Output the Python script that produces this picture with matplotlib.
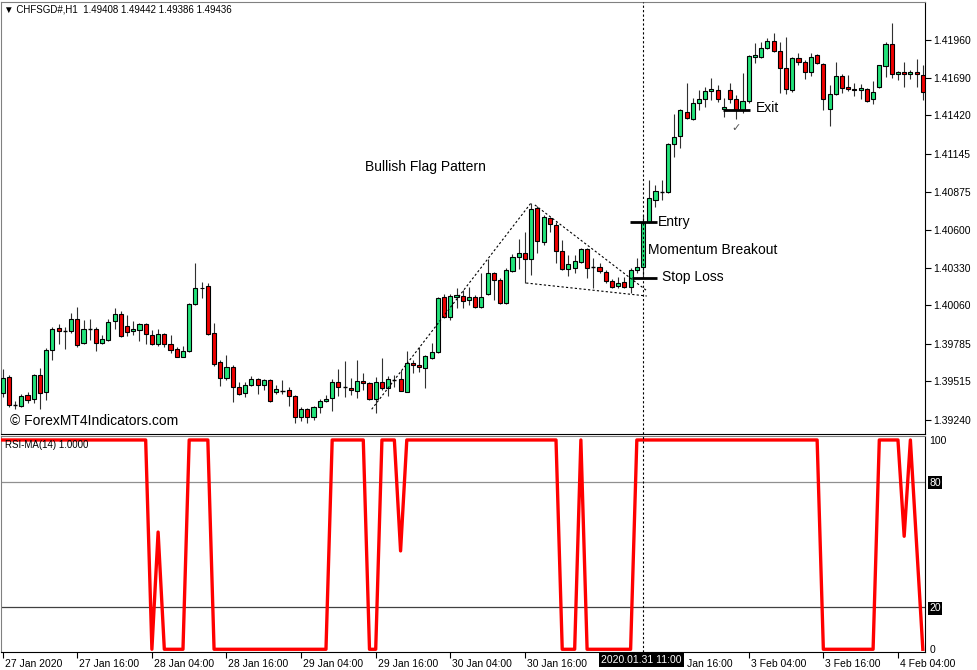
import matplotlib
matplotlib.use("Agg")
import matplotlib.pyplot as plt
import matplotlib.transforms as mtransforms

plt.rcParams['font.family'] = ['Liberation Sans', 'DejaVu Sans']

# CHFSGD# H1 candles, 27 Jan 04:00 .. 4 Feb 08:00 (bar index order)
opens = [1.39431, 1.39547, 1.39347, 1.39342, 1.39419, 1.39390, 1.39560, 1.39438, 1.39741, 1.39896,
         1.39877, 1.39877, 1.39960, 1.39789, 1.39889, 1.39891, 1.39789, 1.39812, 1.39950, 1.39998,
         1.39913, 1.39875, 1.39884, 1.39927, 1.39848, 1.39782, 1.39853, 1.39782, 1.39748, 1.39693,
         1.39736, 1.40068, 1.40183, 1.40199, 1.39860, 1.39653, 1.39538, 1.39621, 1.39478, 1.39431,
         1.39490, 1.39531, 1.39490, 1.39526, 1.39442, 1.39449, 1.39454, 1.39411, 1.39263, 1.39316,
         1.39263, 1.39331, 1.39378, 1.39395, 1.39510, 1.39474, 1.39469, 1.39449, 1.39521, 1.39507,
         1.39388, 1.39512, 1.39467, 1.39526, 1.39531, 1.39442, 1.39646, 1.39633, 1.39610, 1.39681,
         1.39724, 1.40118, 1.39979, 1.40122, 1.40129, 1.40099, 1.40122, 1.40046, 1.40139, 1.40290,
         1.40242, 1.40075, 1.40306, 1.40404, 1.40437, 1.40390, 1.40755, 1.40516, 1.40688, 1.40635,
         1.40449, 1.40318, 1.40330, 1.40373, 1.40464, 1.40333, 1.40333, 1.40297, 1.40235, 1.40201,
         1.40225, 1.40190, 1.40313, 1.40333, 1.40655, 1.40814, 1.40874, 1.40870, 1.41215, 1.41273,
         1.41442, 1.41394, 1.41507, 1.41535, 1.41593, 1.41602, 1.41464, 1.41602, 1.41537, 1.41459,
         1.41523, 1.41836, 1.41836, 1.41900, 1.41950, 1.41883, 1.41757, 1.41602, 1.41829, 1.41804,
         1.41733, 1.41852, 1.41788, 1.41464, 1.41571, 1.41704, 1.41621, 1.41609, 1.41600, 1.41609,
         1.41535, 1.41625, 1.41776, 1.41931, 1.41714, 1.41733, 1.41714, 1.41731, 1.41709]
highs = [1.39603, 1.39562, 1.39378, 1.39426, 1.39442, 1.39569, 1.39610, 1.39753, 1.39908, 1.39927,
         1.39903, 1.40008, 1.40051, 1.39955, 1.39960, 1.39908, 1.39848, 1.39963, 1.40039, 1.40020,
         1.39991, 1.39950, 1.39932, 1.39932, 1.39884, 1.39889, 1.39860, 1.39848, 1.39760, 1.39769,
         1.40079, 1.40361, 1.40230, 1.40218, 1.39936, 1.39669, 1.39705, 1.39633, 1.39514, 1.39514,
         1.39555, 1.39538, 1.39531, 1.39531, 1.39490, 1.39526, 1.39478, 1.39419, 1.39335, 1.39323,
         1.39340, 1.39388, 1.39419, 1.39531, 1.39603, 1.39664, 1.39542, 1.39669, 1.39578, 1.39514,
         1.39550, 1.39681, 1.39555, 1.39562, 1.39598, 1.39734, 1.39669, 1.39760, 1.39705, 1.39789,
         1.40122, 1.40142, 1.40139, 1.40185, 1.40170, 1.40190, 1.40134, 1.40290, 1.40392, 1.40301,
         1.40254, 1.40326, 1.40428, 1.40533, 1.40588, 1.40795, 1.40772, 1.40707, 1.40695, 1.40659,
         1.40528, 1.40421, 1.40421, 1.40469, 1.40469, 1.40397, 1.40361, 1.40313, 1.40247, 1.40263,
         1.40265, 1.40326, 1.40397, 1.40707, 1.40958, 1.40922, 1.40958, 1.41225, 1.41430, 1.41464,
         1.41650, 1.41542, 1.41602, 1.41625, 1.41686, 1.41638, 1.41542, 1.41650, 1.41566, 1.41721,
         1.41852, 1.41936, 1.41943, 1.41972, 1.42012, 1.41948, 1.41979, 1.41840, 1.41869, 1.41817,
         1.41869, 1.41860, 1.41797, 1.41638, 1.41804, 1.41716, 1.41709, 1.41654, 1.41645, 1.41614,
         1.41666, 1.41781, 1.41948, 1.42079, 1.41738, 1.41800, 1.41745, 1.41822, 1.41781]
lows = [1.39406, 1.39333, 1.39316, 1.39335, 1.39359, 1.39359, 1.39316, 1.39383, 1.39669, 1.39782,
        1.39748, 1.39860, 1.39764, 1.39784, 1.39812, 1.39736, 1.39784, 1.39807, 1.39891, 1.39832,
        1.39843, 1.39848, 1.39807, 1.39784, 1.39776, 1.39769, 1.39764, 1.39717, 1.39688, 1.39688,
        1.39729, 1.40063, 1.40111, 1.39848, 1.39626, 1.39483, 1.39526, 1.39371, 1.39419, 1.39402,
        1.39483, 1.39426, 1.39454, 1.39371, 1.39426, 1.39426, 1.39342, 1.39216, 1.39235, 1.39216,
        1.39240, 1.39292, 1.39371, 1.39306, 1.39411, 1.39406, 1.39416, 1.39395, 1.39454, 1.39383,
        1.39288, 1.39454, 1.39411, 1.39478, 1.39445, 1.39438, 1.39574, 1.39585, 1.39467, 1.39674,
        1.39717, 1.39968, 1.39955, 1.40041, 1.40039, 1.40063, 1.40039, 1.40039, 1.40134, 1.40099,
        1.40070, 1.40070, 1.40301, 1.40318, 1.40218, 1.40278, 1.40433, 1.40492, 1.40588, 1.40361,
        1.40313, 1.40270, 1.40290, 1.40361, 1.40254, 1.40187, 1.40290, 1.40222, 1.40182, 1.40187,
        1.40187, 1.40147, 1.40290, 1.40254, 1.40648, 1.40766, 1.40814, 1.40862, 1.41120, 1.41185,
        1.41396, 1.41387, 1.41459, 1.41478, 1.41530, 1.41518, 1.41406, 1.41507, 1.41392, 1.41435,
        1.41511, 1.41793, 1.41829, 1.41893, 1.41876, 1.41578, 1.41571, 1.41590, 1.41781, 1.41678,
        1.41702, 1.41788, 1.41459, 1.41344, 1.41564, 1.41583, 1.41595, 1.41559, 1.41535, 1.41518,
        1.41499, 1.41618, 1.41693, 1.41686, 1.41673, 1.41621, 1.41678, 1.41625, 1.41530]
closes = [1.39542, 1.39345, 1.39347, 1.39414, 1.39385, 1.39562, 1.39431, 1.39741, 1.39891, 1.39875,
          1.39877, 1.39960, 1.39776, 1.39889, 1.39889, 1.39793, 1.39817, 1.39943, 1.39998, 1.39841,
          1.39867, 1.39889, 1.39927, 1.39855, 1.39784, 1.39853, 1.39782, 1.39741, 1.39693, 1.39734,
          1.40070, 1.40187, 1.40187, 1.39855, 1.39641, 1.39542, 1.39617, 1.39474, 1.39426, 1.39490,
          1.39531, 1.39490, 1.39526, 1.39376, 1.39459, 1.39449, 1.39411, 1.39263, 1.39316, 1.39263,
          1.39331, 1.39378, 1.39390, 1.39510, 1.39478, 1.39474, 1.39457, 1.39521, 1.39507, 1.39388,
          1.39512, 1.39467, 1.39531, 1.39526, 1.39449, 1.39646, 1.39633, 1.39621, 1.39698, 1.39724,
          1.40115, 1.39979, 1.40129, 1.40134, 1.40091, 1.40122, 1.40046, 1.40122, 1.40290, 1.40242,
          1.40075, 1.40313, 1.40404, 1.40437, 1.40390, 1.40750, 1.40521, 1.40695, 1.40641, 1.40449,
          1.40318, 1.40356, 1.40378, 1.40464, 1.40326, 1.40333, 1.40308, 1.40235, 1.40194, 1.40222,
          1.40190, 1.40313, 1.40333, 1.40648, 1.40827, 1.40881, 1.40874, 1.41215, 1.41268, 1.41459,
          1.41404, 1.41507, 1.41537, 1.41597, 1.41607, 1.41535, 1.41482, 1.41535, 1.41459, 1.41523,
          1.41845, 1.41852, 1.41900, 1.41950, 1.41883, 1.41757, 1.41607, 1.41833, 1.41800, 1.41733,
          1.41840, 1.41793, 1.41535, 1.41571, 1.41704, 1.41618, 1.41609, 1.41600, 1.41614, 1.41525,
          1.41588, 1.41779, 1.41931, 1.41714, 1.41733, 1.41714, 1.41731, 1.41714, 1.41585]

# RSI-MA(14) per bar
rsi_ma = [100] * 24 + [0, 56] + [0] * 4 + [100] * 4 + [0] * 19 + [100] * 6 + [0] * 2 + [100] * 3 \
    + [47] + [100] * 25 + [0] * 3 + [100] + [0] * 8 + [100] * 30 + [0] * 9 + [100] * 4 \
    + [54, 100, 50, 0]

price_ticks = [1.41960, 1.41690, 1.41420, 1.41145, 1.40875, 1.40600,
               1.40330, 1.40060, 1.39785, 1.39515, 1.39240]
# "31 Jan 04:00" and the "31" of "31 Jan 16:00" sit under the cursor time box
time_labels = ["27 Jan 2020", "27 Jan 16:00", "28 Jan 04:00", "28 Jan 16:00", "29 Jan 04:00",
               "29 Jan 16:00", "30 Jan 04:00", "30 Jan 16:00", "", "Jan 16:00",
               "3 Feb 04:00", "3 Feb 16:00", "4 Feb 04:00"]

# trade annotations (bar index, price)
entry_price, stop_price, exit_price = 1.40655, 1.40254, 1.41459
flag_pole = ([59.35, 84.98], [1.39316, 1.40793])
flag_top = ([85.6, 103.6], [1.40779, 1.40165])
flag_bottom = ([84.2, 103.6], [1.40220, 1.40127])
cursor_bar = 103

W, H = 977, 670
fig = plt.figure(figsize=(W / 100, H / 100), dpi=100)
ax1 = fig.add_axes([1 / W, (H - 434) / H, 924 / W, 432 / H])
ax2 = fig.add_axes([1 / W, (H - 652) / H, 924 / W, 216 / H])

green = '#22E37A'
red = '#F00000'
n = len(opens)
x = list(range(n))

# wicks
ax1.vlines(x, lows, highs, color='#303030', lw=0.8, zorder=2)
# bodies
for i in range(n):
    o, c = opens[i], closes[i]
    if abs(c - o) < 1e-6:
        ax1.hlines(o, i - 0.33, i + 0.33, color='black', lw=1.0, zorder=3)
        continue
    col = green if c > o else red
    ax1.bar(i, abs(c - o), bottom=min(o, c), width=0.66, color=col,
            edgecolor='black', linewidth=0.8, zorder=3)

# flag pattern dashed lines
for xs, ys in (flag_pole, flag_top, flag_bottom):
    ax1.plot(xs, ys, color='black', lw=0.8, ls=(0, (2, 2)), zorder=4)

# entry / stop / exit levels
ax1.hlines(entry_price, 100.9, 105.2, color='black', lw=2, zorder=5)
ax1.hlines(stop_price, 101.2, 105.2, color='black', lw=2, zorder=5)
ax1.hlines(exit_price, 115.9, 120.2, color='black', lw=2, zorder=5)

ax1.text(58.3, 1.41051, "Bullish Flag Pattern", fontsize=10, va='center', ha='left')
ax1.text(105.4, entry_price, "Entry", fontsize=10, va='center', ha='left')
ax1.text(103.8, 1.40457, "Momentum Breakout", fontsize=10, va='center', ha='left')
ax1.text(106.05, 1.40263, "Stop Loss", fontsize=10, va='center', ha='left')
ax1.text(121.2, 1.41473, "Exit", fontsize=10, va='center', ha='left')
ax1.text(117.9, 1.41330, "\u2713", fontsize=8, va='center', ha='center', color='#555555',
         family=['DejaVu Sans'])

ax1.set_xlim(-0.27, 148.35)
ax1.set_ylim(1.39139, 1.42232)
ax1.set_xticks([])
ax1.yaxis.tick_right()
ax1.set_yticks(price_ticks)
ax1.set_yticklabels([f"{p:.5f}" for p in price_ticks])
ax1.tick_params(axis='y', direction='out', length=4, width=0.8, pad=2, labelsize=7.5)

# RSI-MA panel
ax2.plot(x, rsi_ma, color='#FF0000', lw=2.4, zorder=3)
ax2.axhline(80, color='#909090', lw=0.9, zorder=1)
ax2.axhline(20, color='#404040', lw=0.9, zorder=1)
ax2.set_xlim(-0.27, 148.35)
ax2.set_ylim(-1.3, 101.9)
ax2.yaxis.tick_right()
ax2.set_yticks([0, 20, 80, 100])
ax2.set_yticklabels(["0", "20", "80", "100"])
ax2.tick_params(axis='y', length=0, pad=3, labelsize=7.5)
for lab in ax2.get_yticklabels():
    if lab.get_text() in ("20", "80"):
        lab.set_color('white')
        lab.set_bbox(dict(facecolor='black', edgecolor='none', pad=1))

ax2.set_xticks(list(range(0, 145, 12)))
ax2.set_xticklabels(time_labels)
ax2.tick_params(axis='x', direction='out', length=4, width=0.8, pad=1, labelsize=7.5)
for lab in ax2.get_xticklabels():
    dx = 13 if lab.get_text() == "Jan 16:00" else 2
    shift = mtransforms.ScaledTranslation(dx / 100, 0, fig.dpi_scale_trans)
    lab.set_horizontalalignment('left')
    lab.set_transform(lab.get_transform() + shift)

for ax in (ax1, ax2):
    ax.axvline(cursor_bar, color='black', lw=0.8, ls=(0, (2, 2)), zorder=6)
    for s in ax.spines.values():
        s.set_color('black')
        s.set_linewidth(0.8)
    ax.spines['top'].set_color('#808080')
    ax.spines['left'].set_color('#808080')

fig.text(4 / W, 1 - 9 / H, "\u25bc CHFSGD#,H1  1.49408 1.49442 1.49386 1.49436",
         fontsize=7, va='center', ha='left')
fig.text(5 / W, 1 - 445 / H, "RSI-MA(14) 1.0000", fontsize=7, va='center', ha='left')
fig.text(10 / W, 1 - 421 / H, "\u00a9 ForexMT4Indicators.com", fontsize=10,
         va='center', ha='left')
fig.text(601 / W, 1 - 660 / H, "2020.01.31 11:00", fontsize=7.5, va='center', ha='left',
         color='white', bbox=dict(facecolor='black', edgecolor='none', pad=1.5))

fig.savefig("out.png", dpi=100)
